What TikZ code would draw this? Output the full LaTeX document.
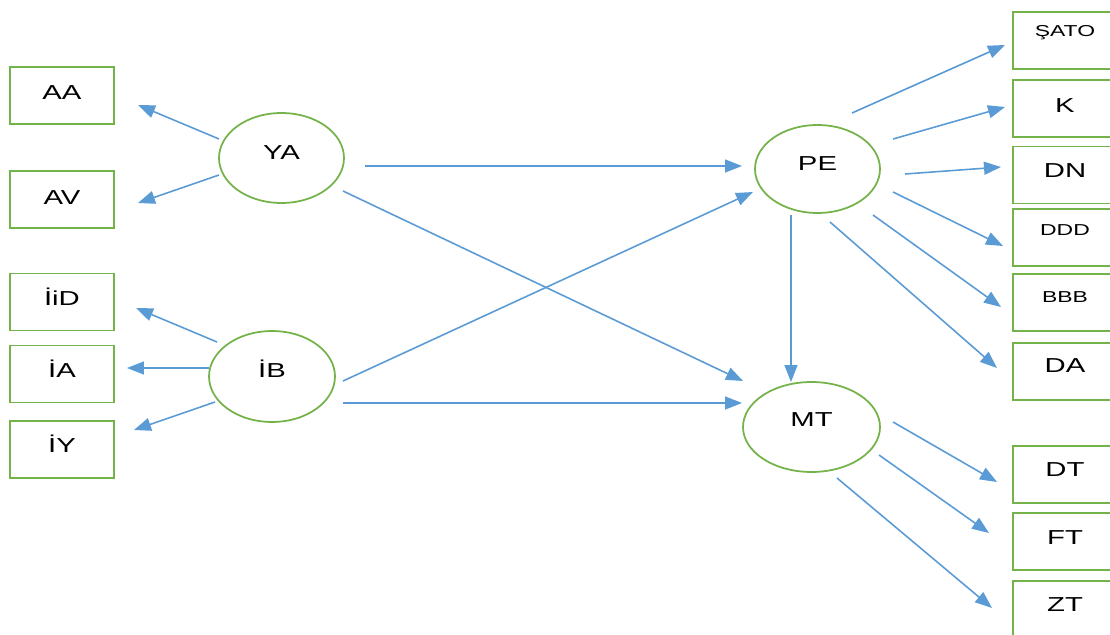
\documentclass[tikz,border=0pt]{standalone}
\usepackage{fontspec}
\usetikzlibrary{shapes.geometric,arrows.meta}
\newfontfamily\wfont[FakeStretch=1.45]{Liberation Sans}
\definecolor{grn}{HTML}{74B24A}
\definecolor{blu}{HTML}{5B9BD5}
\newdimen\pxu \pxu=0.02cm
\newcommand\lab[2]{\raisebox{#1\pxu}{#2}}
\tikzset{
  boxnode/.style={draw=grn, line width=1.1pt, minimum width=2.08cm, minimum height=1.14cm,
    inner sep=0pt, text height=8.2pt, text depth=0pt,
    font=\wfont\fontsize{11.5}{13}\selectfont},
  smallbox/.style={boxnode, text height=6.45pt, font=\wfont\fontsize{9}{11}\selectfont},
  ellnode/.style={ellipse, draw=grn, line width=1pt, inner sep=0pt,
    text height=8.2pt, text depth=0pt, font=\wfont\fontsize{11.5}{13}\selectfont},
  arr/.style={draw=blu, line width=0.9pt, -{Triangle[length=0.34cm,width=0.26cm]}}
}
\begin{document}
\begin{tikzpicture}[x=0.02cm,y=-0.02cm]
\useasboundingbox (0,0) rectangle (1110,635);
% left boxes
\node[boxnode] (AA)  at (62,95.5)  {\lab{3.5}{AA}};
\node[boxnode] (AV)  at (62,199.5) {\lab{2.5}{AV}};
\node[boxnode] (IID) at (62,302)   {\lab{4}{İiD}};
\node[boxnode] (IA)  at (62,374)   {\lab{4}{İA}};
\node[boxnode] (IY)  at (62,449.5) {\lab{4.5}{İY}};
% ellipses
\node[ellnode, minimum width=2.5cm,  minimum height=1.8cm]  (YA) at (281.5,158) {\lab{6}{YA}};
\node[ellnode, minimum width=2.52cm, minimum height=1.82cm] (IB) at (272,376.5) {\lab{6.5}{İB}};
\node[ellnode, minimum width=2.5cm,  minimum height=1.76cm] (PE) at (817.5,169) {\lab{6}{PE}};
\node[ellnode, minimum width=2.74cm, minimum height=1.8cm]  (MT) at (811.5,427) {\lab{8}{MT}};
% right boxes
\node[smallbox] (SATO) at (1065,40.5)  {\lab{10}{ŞATO}};
\node[boxnode]  (K)    at (1065,108.5) {\lab{3.5}{K}};
\node[boxnode]  (DN)   at (1065,175)   {\lab{5}{DN}};
\node[smallbox] (DDD)  at (1065,237.5) {\lab{7.5}{DDD}};
\node[smallbox] (BBB)  at (1065,302.5) {\lab{5.5}{BBB}};
\node[boxnode]  (DA)   at (1065,371.5) {\lab{6.5}{DA}};
\node[boxnode]  (DT)   at (1065,474.5) {\lab{5.5}{DT}};
\node[boxnode]  (FT)   at (1065,541.5) {\lab{4.5}{FT}};
\node[boxnode]  (ZT)   at (1065,609.5) {\lab{5.5}{ZT}};
% connectors
\draw[arr] ([shift={(-62.5,-19)}]YA.center) -- ([shift={(76,9.5)}]AA.center);
\draw[arr] ([shift={(-62.5,17)}]YA.center) -- ([shift={(76,3.5)}]AV.center);
\draw[arr] ([shift={(-55,-34.5)}]IB.center) -- ([shift={(74,6)}]IID.center);
\draw[arr] ([shift={(-63,-8.5)}]IB.center) -- ([shift={(65,-6)}]IA.center);
\draw[arr] ([shift={(-57,25.5)}]IB.center) -- ([shift={(72,-19.5)}]IY.center);
\draw[arr] ([shift={(83.5,8)}]YA.center) -- ([shift={(-75.5,-3)}]PE.center);
\draw[arr] ([shift={(61.5,33)}]YA.center) -- ([shift={(-68.5,-46)}]MT.center);
\draw[arr] ([shift={(71,4.5)}]IB.center) -- ([shift={(-64.5,23)}]PE.center);
\draw[arr] ([shift={(71,26.5)}]IB.center) -- ([shift={(-69.5,-24)}]MT.center);
\draw[arr] ([shift={(-26.5,46)}]PE.center) -- ([shift={(-20.5,-45)}]MT.center);
\draw[arr] ([shift={(34.5,-56)}]PE.center) -- ([shift={(-60,4.5)}]SATO.center);
\draw[arr] ([shift={(75.5,-30)}]PE.center) -- ([shift={(-60,-1.5)}]K.center);
\draw[arr] ([shift={(87.5,5)}]PE.center) -- ([shift={(-64,-8)}]DN.center);
\draw[arr] ([shift={(75.5,23)}]PE.center) -- ([shift={(-62,8.5)}]DDD.center);
\draw[arr] ([shift={(55.5,46)}]PE.center) -- ([shift={(-64,4.5)}]BBB.center);
\draw[arr] ([shift={(12.5,53)}]PE.center) -- ([shift={(-68,-3.5)}]DA.center);
\draw[arr] ([shift={(81.5,-5)}]MT.center) -- ([shift={(-68,7.5)}]DT.center);
\draw[arr] ([shift={(67.5,28)}]MT.center) -- ([shift={(-76,-8.5)}]FT.center);
\draw[arr] ([shift={(25.5,51)}]MT.center) -- ([shift={(-73,-1.5)}]ZT.center);
\end{tikzpicture}
\end{document}
